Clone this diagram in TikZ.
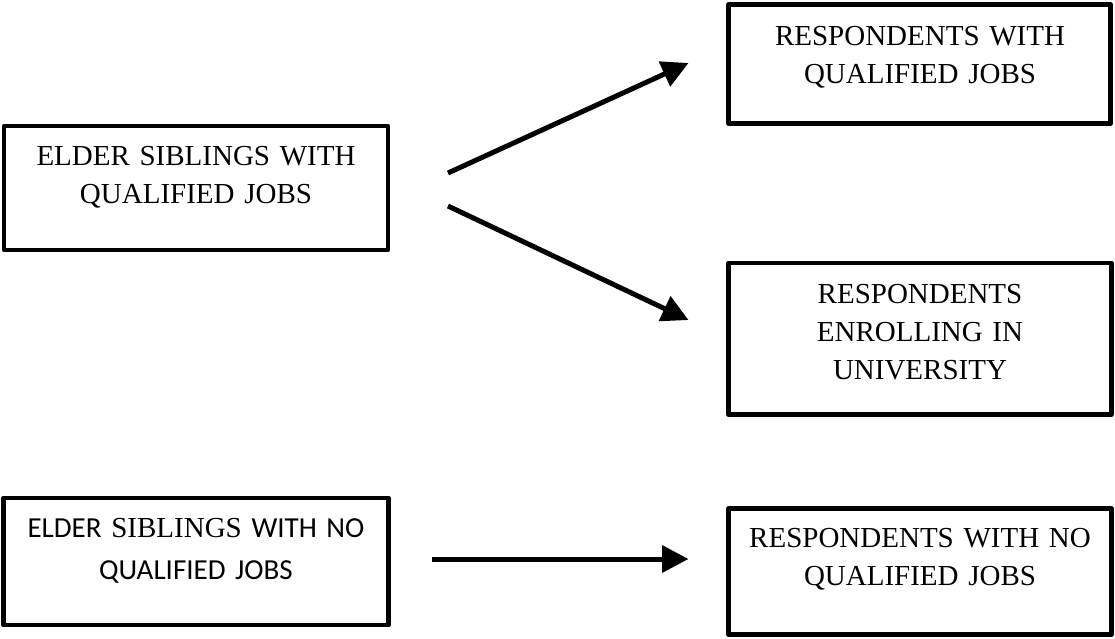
\documentclass[tikz,border=0pt]{standalone}
\usepackage{fontspec}
\setmainfont{Liberation Serif}
\newfontfamily\calibri{Carlito}
\usetikzlibrary{arrows.meta}
\tikzset{
  box/.style={draw=black, line width=4.7pt, line join=round, inner sep=0pt, fill=white},
  txt/.style={inner sep=0pt, anchor=base, align=center, text width=380pt,
              font=\fontsize{29}{38}\selectfont},
  txtc/.style={inner sep=0pt, anchor=base, align=center, text width=380pt,
              font=\fontsize{29}{42}\selectfont},
  arr/.style={line width=5pt, -{Triangle[length=26.5pt,width=26.5pt]}}
}
\begin{document}
\begin{tikzpicture}[x=1pt,y=-1pt]
\useasboundingbox (0,0) rectangle (1115,638);
% boxes
\node[box, minimum width=384pt, minimum height=124pt] (b1) at (196,188) {};
\node[box, minimum width=382pt, minimum height=119pt] (b2) at (919.5,64) {};
\node[box, minimum width=382.5pt, minimum height=151.5pt] (b3) at (920,338.75) {};
\node[box, minimum width=385pt, minimum height=127pt] (b4) at (196,561.5) {};
\node[box, minimum width=383pt, minimum height=126pt] (b5) at (920,571.5) {};
% texts
\node[txt] (t1) at (196,165) {ELDER SIBLINGS WITH\\QUALIFIED JOBS};
\node[txt] (t2) at (920,45) {RESPONDENTS WITH\\QUALIFIED JOBS};
\node[txt] (t3) at (920,303) {RESPONDENTS\\ENROLLING IN\\UNIVERSITY};
\node[txtc] (t4) at (196,537) {{\calibri ELDER }SIBLINGS{\calibri\ WITH NO}\\{\calibri QUALIFIED JOBS}};
\node[txt] (t5) at (920,547) {RESPONDENTS WITH NO\\QUALIFIED JOBS};
% connector ends
\coordinate (s1) at (448,173);
\coordinate (e1) at (688.5,63);
\coordinate (s2) at (448,206);
\coordinate (e2) at (688.5,320);
\coordinate (s3) at (432,559);
\coordinate (e3) at (688.5,559);
\draw[arr] (s1) -- (e1);
\draw[arr] (s2) -- (e2);
\draw[arr] (s3) -- (e3);
\end{tikzpicture}
\end{document}
